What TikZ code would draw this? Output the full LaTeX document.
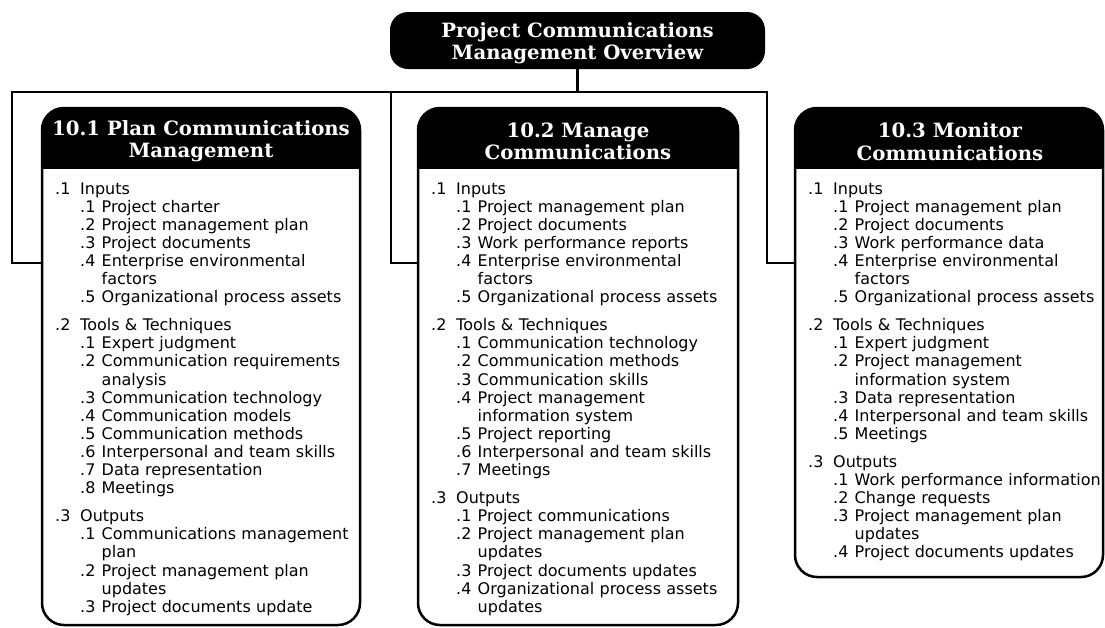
\documentclass[tikz,border=0pt]{standalone}
\usepackage{fontspec}
\setmainfont{DejaVu Sans}
\newfontfamily\headfont{DejaVu Serif}
\newcommand{\SecL}[2]{\makebox[25pt][l]{#1}#2}
\newcommand{\ItL}[2]{\hspace*{25pt}\makebox[21.5pt][l]{#1}#2}
\newcommand{\ContL}[1]{\hspace*{46.5pt}#1}
\tikzset{
  conn/.style={line width=2.8pt},
  boxframe/.style={draw, line width=2.5pt, rounded corners=22pt, inner sep=0pt, outer sep=0pt, anchor=north west},
  headtext/.style={text=white, font=\headfont\bfseries\fontsize{19.7}{22.5}\selectfont, align=center, inner sep=0pt},
  topbox/.style={fill=black, rounded corners=18pt, minimum width=375pt, minimum height=57pt, inner sep=0pt},
  body/.style={anchor=base west, inner sep=0pt, text width=300pt, align=left, font=\fontsize{16}{18.1}\selectfont}
}
\begin{document}
\begin{tikzpicture}[x=1pt,y=-1pt]
\useasboundingbox (0,0) rectangle (1105,627);
% top box
\node[topbox] (top) at (577.5,40.5) {};
\node[headtext] (toptxt) at (577.5,43) {Project Communications\\Management Overview};
% process boxes
\node[boxframe, minimum width=318pt, minimum height=517pt] (b1) at (42,108) {};
\node[boxframe, minimum width=320pt, minimum height=517pt] (b2) at (418,108) {};
\node[boxframe, minimum width=308pt, minimum height=469pt] (b3) at (795,108) {};
\begin{scope}
  \clip (0,0) rectangle (1105,168);
  \fill[rounded corners=22pt] (b1.north west) rectangle (b1.south east);
  \fill[rounded corners=22pt] (b2.north west) rectangle (b2.south east);
  \fill[rounded corners=22pt] (b3.north west) rectangle (b3.south east);
\end{scope}
\node[headtext] (h1) at (201,141) {10.1 Plan Communications\\Management};
\node[headtext] (h2) at (578,141.5) {10.2 Manage\\Communications};
\node[headtext] (h3) at (950,141.5) {10.3 Monitor\\Communications};
% connectors
\coordinate (bus) at (577.5,92);
\coordinate (jL) at (12,92);
\coordinate (jM) at (391,92);
\coordinate (jR) at (767,92);
\coordinate (e1) at (42,263);
\coordinate (e2) at (418,263);
\coordinate (e3) at (795,263);
\draw[conn] (top.south) -- (bus);
\draw[conn] (e1) -| (jL) -- (jR) |- (e3);
\draw[conn] (jM) |- (e2);
% bodies
\node[body] (t1) at (55,194) {%
\SecL{.1}{Inputs}\\
\ItL{.1}{Project charter}\\
\ItL{.2}{Project management plan}\\
\ItL{.3}{Project documents}\\
\ItL{.4}{Enterprise environmental}\\
\ContL{factors}\\
\ItL{.5}{Organizational process assets}\\[10pt]
\SecL{.2}{Tools \& Techniques}\\
\ItL{.1}{Expert judgment}\\
\ItL{.2}{Communication requirements}\\
\ContL{analysis}\\
\ItL{.3}{Communication technology}\\
\ItL{.4}{Communication models}\\
\ItL{.5}{Communication methods}\\
\ItL{.6}{Interpersonal and team skills}\\
\ItL{.7}{Data representation}\\
\ItL{.8}{Meetings}\\[10pt]
\SecL{.3}{Outputs}\\
\ItL{.1}{Communications management}\\
\ContL{plan}\\
\ItL{.2}{Project management plan}\\
\ContL{updates}\\
\ItL{.3}{Project documents update}};
\node[body] (t2) at (431,194) {%
\SecL{.1}{Inputs}\\
\ItL{.1}{Project management plan}\\
\ItL{.2}{Project documents}\\
\ItL{.3}{Work performance reports}\\
\ItL{.4}{Enterprise environmental}\\
\ContL{factors}\\
\ItL{.5}{Organizational process assets}\\[10pt]
\SecL{.2}{Tools \& Techniques}\\
\ItL{.1}{Communication technology}\\
\ItL{.2}{Communication methods}\\
\ItL{.3}{Communication skills}\\
\ItL{.4}{Project management}\\
\ContL{information system}\\
\ItL{.5}{Project reporting}\\
\ItL{.6}{Interpersonal and team skills}\\
\ItL{.7}{Meetings}\\[10pt]
\SecL{.3}{Outputs}\\
\ItL{.1}{Project communications}\\
\ItL{.2}{Project management plan}\\
\ContL{updates}\\
\ItL{.3}{Project documents updates}\\
\ItL{.4}{Organizational process assets}\\
\ContL{updates}};
\node[body] (t3) at (808,194) {%
\SecL{.1}{Inputs}\\
\ItL{.1}{Project management plan}\\
\ItL{.2}{Project documents}\\
\ItL{.3}{Work performance data}\\
\ItL{.4}{Enterprise environmental}\\
\ContL{factors}\\
\ItL{.5}{Organizational process assets}\\[10pt]
\SecL{.2}{Tools \& Techniques}\\
\ItL{.1}{Expert judgment}\\
\ItL{.2}{Project management}\\
\ContL{information system}\\
\ItL{.3}{Data representation}\\
\ItL{.4}{Interpersonal and team skills}\\
\ItL{.5}{Meetings}\\[10pt]
\SecL{.3}{Outputs}\\
\ItL{.1}{Work performance information}\\
\ItL{.2}{Change requests}\\
\ItL{.3}{Project management plan}\\
\ContL{updates}\\
\ItL{.4}{Project documents updates}};
\end{tikzpicture}
\end{document}
